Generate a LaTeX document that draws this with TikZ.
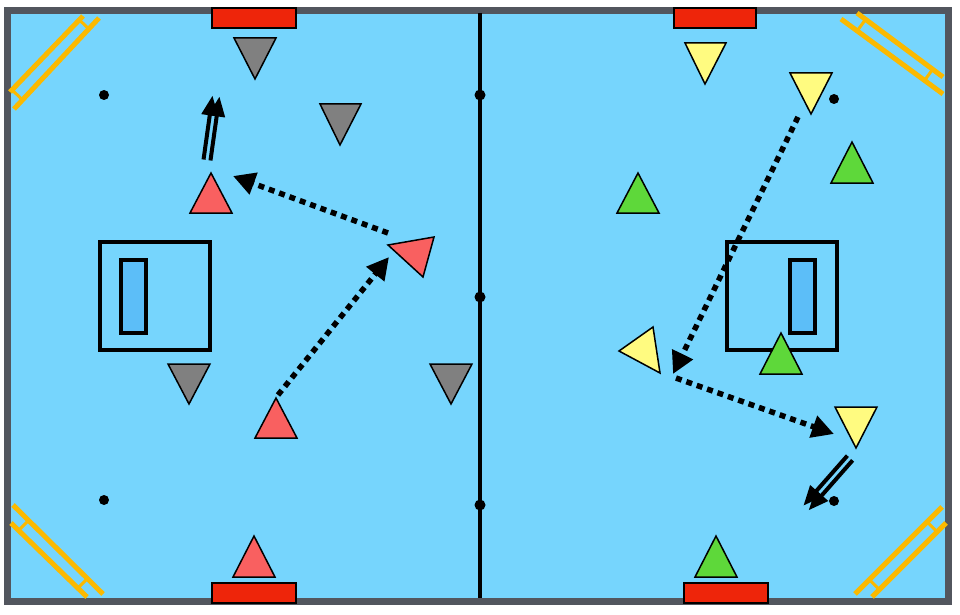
\documentclass[tikz,border=0pt]{standalone}
\usetikzlibrary{arrows.meta,calc}
\definecolor{field}{RGB}{118,213,253}
\definecolor{frame}{RGB}{82,86,94}
\definecolor{goalred}{RGB}{238,37,10}
\definecolor{redp}{RGB}{249,96,96}
\definecolor{grayp}{RGB}{128,128,128}
\definecolor{yelp}{RGB}{255,251,128}
\definecolor{grnp}{RGB}{94,216,58}
\definecolor{ladd}{RGB}{251,185,0}
\definecolor{inner}{RGB}{92,190,248}
\tikzset{
  tri/.style={draw=black, line width=1.5pt, line join=miter},
  redtri/.style={tri, fill=redp},
  graytri/.style={tri, fill=grayp},
  yeltri/.style={tri, fill=yelp},
  grntri/.style={tri, fill=grnp},
  goal/.style={draw=black, line width=1.2pt, fill=goalred},
  ladder/.style={draw=ladd, line width=5pt},
  rung/.style={draw=ladd, line width=3pt},
  boxline/.style={draw=black, line width=4pt},
  run/.style={line width=5.5pt, dash pattern=on 6pt off 5pt, -{Triangle[length=22pt,width=22pt]}},
  dribble/.style={line width=4pt, -{Triangle[length=20pt,width=16pt]}},
}
\newcommand\drawladder[4]{%
  \draw[ladder] #1 -- #2;
  \draw[ladder] #3 -- #4;
  \path #3 -- #4 coordinate[pos=0.1] (ra) coordinate[pos=0.88] (rb);
  \draw[rung] (ra) -- ($#1!(ra)!#2$);
  \draw[rung] (rb) -- ($#1!(rb)!#2$);
}
\begin{document}
\begin{tikzpicture}[x=1pt,y=-1pt]
\useasboundingbox (0,0) rectangle (960,615);
\fill[white] (0,0) rectangle (960,615);
% field
\draw[draw=frame, fill=field, line width=7pt] (7,10.5) rectangle (948.5,601.5);
% ladders
\drawladder{(10,92)}{(83,16)}{(14,109)}{(99,18)}
\drawladder{(841,19)}{(943,94)}{(857,13)}{(943,77)}
\drawladder{(13,505)}{(103,594)}{(11,523)}{(87,597)}
\drawladder{(855,594)}{(942,507)}{(872,597)}{(946,523)}
% centre line
\draw[line width=4.5pt] (480,13) -- (480,598);
\foreach \yy in {95,297,505} \fill (480,\yy) circle (5.5);
% spots
\fill (104,95) circle (5);
\fill (104,500) circle (5);
\fill (834,99) circle (5);
\fill (834,501) circle (5);
% goals
\draw[goal] (212,8) rectangle (296,28);
\draw[goal] (674,8) rectangle (756,28);
\draw[goal] (212,583) rectangle (296,603);
\draw[goal] (684,583) rectangle (768,603);
% boxes
\draw[boxline] (100,242) rectangle (210,350);
\draw[boxline, fill=inner] (121,260) rectangle (146,333);
\draw[boxline] (727,242) rectangle (837,350);
\draw[boxline, fill=inner] (790,260) rectangle (815,333);
% gray triangles
\draw[graytri] (234,38) -- (276,38) -- (255,79) -- cycle;
\draw[graytri] (320,104) -- (361,104) -- (340,145) -- cycle;
\draw[graytri] (168,364) -- (210,364) -- (189,404) -- cycle;
\draw[graytri] (430,364) -- (472,364) -- (451,404) -- cycle;
% red triangles
\draw[redtri] (211,173) -- (232,213) -- (190,213) -- cycle;
\draw[redtri] (276,398) -- (297,438) -- (255,438) -- cycle;
\draw[redtri] (254,536) -- (275,577) -- (233,577) -- cycle;
\draw[redtri] (388,245) -- (434,237) -- (423,277) -- cycle;
% yellow triangles
\draw[yeltri] (685,43) -- (726,43) -- (705,84) -- cycle;
\draw[yeltri] (790,73) -- (832,73) -- (811,114) -- cycle;
\draw[yeltri] (619,351) -- (653,327) -- (660,373) -- cycle;
\draw[yeltri] (835,407) -- (877,407) -- (856,448) -- cycle;
% green triangles
\draw[grntri] (638,173) -- (659,213) -- (617,213) -- cycle;
\draw[grntri] (852,142) -- (873,183) -- (831,183) -- cycle;
\draw[grntri] (781,333) -- (802,374) -- (760,374) -- cycle;
\draw[grntri] (716,536) -- (737,577) -- (695,577) -- cycle;
% passes
\coordinate (p1s) at (388,233); \coordinate (p1e) at (233,176);
\coordinate (p2s) at (278,395); \coordinate (p2e) at (389,257);
\coordinate (p3s) at (798,117); \coordinate (p3e) at (673,374);
\coordinate (p4s) at (676,378); \coordinate (p4e) at (834,434);
\draw[run] (p1s) -- (p1e);
\draw[run] (p2s) -- (p2e);
\draw[run] (p3s) -- (p3e);
\draw[run] (p4s) -- (p4e);
% dribbles
\coordinate (d1s) at (207,160); \coordinate (d1e) at (216,96);
\coordinate (d2s) at (850,458); \coordinate (d2e) at (806,508);
\draw[dribble] ($(d1s)!3.5pt!90:(d1e)$) -- ($(d1e)!3.5pt!-90:(d1s)$);
\draw[dribble] ($(d1s)!3.5pt!-90:(d1e)$) -- ($(d1e)!3.5pt!90:(d1s)$);
\draw[dribble] ($(d2s)!3.5pt!90:(d2e)$) -- ($(d2e)!3.5pt!-90:(d2s)$);
\draw[dribble] ($(d2s)!3.5pt!-90:(d2e)$) -- ($(d2e)!3.5pt!90:(d2s)$);
\end{tikzpicture}
\end{document}
